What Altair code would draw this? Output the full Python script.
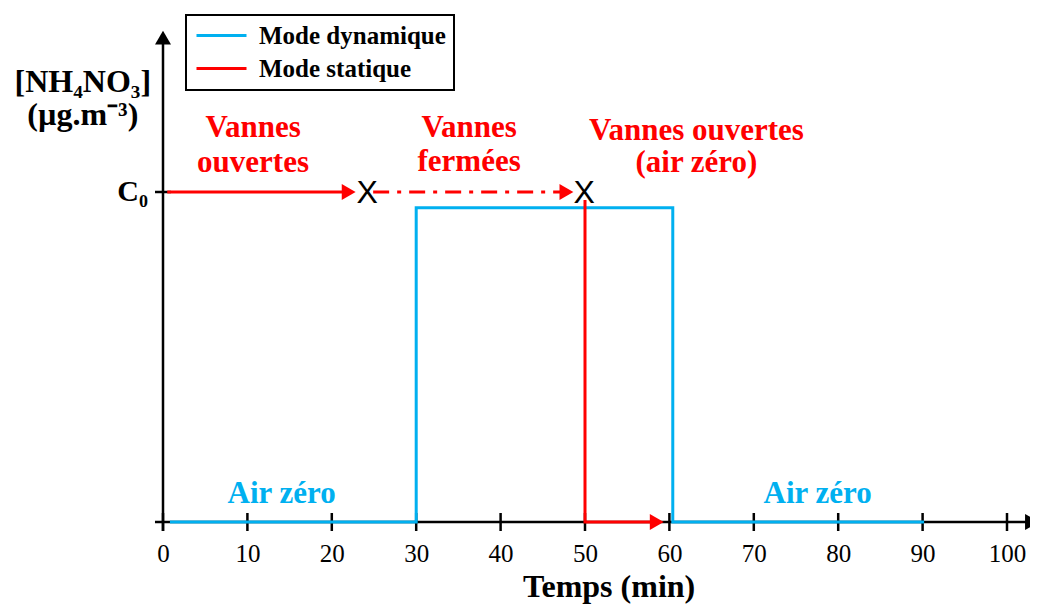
import altair as alt
import pandas as pd

BLUE = "#00B0F0"
RED = "#FF0000"
SERIF = "Liberation Serif"

# ---- data (x: minutes, y: concentration, C0 = 1) ----
C0 = 1.0

# Mode dynamique (blue step signal)
dyn_t = [1, 30, 30, 60.4, 60.4, 90]
dyn_c = [0, 0, 0.952, 0.952, 0, 0]

# Mode statique (red): solid pieces
stat_seg = ["a", "a", "b", "b", "b"]
stat_t = [0.5, 22.0, 50, 50, 58.5]
stat_c = [1.0, 1.0, 0.976, 0, 0]

# Mode statique: valves closed (dash-dot)
closed_t = [24.9, 47.8]
closed_c = [1.0, 1.0]

# arrow heads on the red path
head_t = [22.0, 47.8, 58.5]
head_c = [1.0, 1.0, 0.0]

# X markers
cross_t = [24.2, 49.9]
cross_c = [0.967, 0.967]

# axis ticks
tick_vals = list(range(0, 101, 10))

# red annotations
red_txt = ["Vannes", "ouvertes", "Vannes", "fermées", "Vannes ouvertes", "(air zéro)"]
red_t = [10.67, 10.67, 36.27, 36.27, 63.2, 63.2]
red_c = [1.1667, 1.0606, 1.1676, 1.0636, 1.159, 1.0606]

# blue annotations
blue_txt = ["Air zéro", "Air zéro"]
blue_t = [14.05, 77.57]
blue_c = [0.0576, 0.0576]

# axis labels
ylab_txt = ["[NH₄NO₃]", "(µg.m⁻³)"]
ylab_t = [-9.5, -9.5]
ylab_c = [1.303, 1.203]

c0_txt = ["C₀"]
c0_t = [-3.6]
c0_c = [0.9727]

xtitle_txt = ["Temps (min)"]
xtitle_t = [52.86]
xtitle_c = [-0.227]

modes = ["Mode dynamique", "Mode statique"]

W, H = 844, 495

xs = alt.Scale(domain=[0, 100], nice=False, zero=False)
ys = alt.Scale(domain=[0, 1.5], nice=False, zero=False)
xaxis = alt.Axis(values=tick_vals, domain=False, ticks=False, grid=False,
                 labelFont=SERIF, labelFontSize=25, labelColor="black",
                 labelPadding=19, title=None, labelFlush=False, labelOverlap=False)
X = alt.X("t:Q", scale=xs, axis=xaxis)
Y = alt.Y("c:Q", scale=ys, axis=None)

color = alt.Color("mode:N",
                  scale=alt.Scale(domain=modes, range=[BLUE, RED]),
                  legend=alt.Legend(title=None, orient="none", legendX=23, legendY=-12,
                                    symbolType="M-1,0H4", symbolSize=400,
                                    symbolStrokeWidth=3, labelFont=SERIF,
                                    labelFontSize=25, labelFontWeight="bold",
                                    labelColor="black", labelLimit=400,
                                    padding=8, rowPadding=7,
                                    labelOffset=40, fillColor="white",
                                    strokeColor="black"))

# axes drawn as rules
xaxis_df = pd.DataFrame({"t": [-0.95], "t2": [103.0], "c": [0.0]})
x_line = alt.Chart(xaxis_df).mark_rule(color="black", strokeWidth=2.5).encode(
    x=X, x2="t2:Q", y=Y)
yaxis_df = pd.DataFrame({"t": [0.0], "c": [-0.027], "c2": [1.468]})
y_line = alt.Chart(yaxis_df).mark_rule(color="black", strokeWidth=2.5).encode(
    x=X, y=Y, y2="c2:Q")
ticks_df = pd.DataFrame({"t": tick_vals})
x_ticks = alt.Chart(ticks_df).mark_rule(color="black", strokeWidth=2.5).encode(
    x=X, y=alt.value(H - 9), y2=alt.value(H + 9))
c0_df = pd.DataFrame({"c": [C0]})
c0_tick = alt.Chart(c0_df).mark_rule(color="black", strokeWidth=2.5).encode(
    y=Y, x=alt.value(-8), x2=alt.value(8))
yarrow_df = pd.DataFrame({"t": [0.0], "c": [1.468]})
y_arrow = alt.Chart(yarrow_df).mark_point(shape="triangle-up", filled=True, size=256,
                                          color="black", opacity=1).encode(x=X, y=Y)
xarrow_df = pd.DataFrame({"t": [102.96], "c": [0.0]})
x_arrow = alt.Chart(xarrow_df).mark_point(shape="triangle-right", filled=True, size=256,
                                          color="black", opacity=1).encode(x=X, y=Y)

dyn_df = pd.DataFrame({"t": dyn_t, "c": dyn_c, "mode": modes[0]})
dyn_df["i"] = range(len(dyn_df))
dyn = alt.Chart(dyn_df).mark_line(strokeWidth=3, strokeCap="square").encode(
    x=X, y=Y, color=color, order=alt.Order("i:Q"))

stat_df = pd.DataFrame({"t": stat_t, "c": stat_c, "seg": stat_seg, "mode": modes[1]})
stat_df["i"] = range(len(stat_df))
stat = alt.Chart(stat_df).mark_line(strokeWidth=3).encode(
    x=X, y=Y, color=color, detail="seg:N", order=alt.Order("i:Q"))

closed_df = pd.DataFrame({"t": closed_t, "c": closed_c})
closed = alt.Chart(closed_df).mark_line(strokeWidth=3, color=RED,
                                        strokeDash=[16, 8, 4, 8]).encode(x=X, y=Y)

head_df = pd.DataFrame({"t": head_t, "c": head_c})
heads = alt.Chart(head_df).mark_point(shape="triangle-right", filled=True, size=256,
                                      color=RED, opacity=1).encode(x=X, y=Y)

cross_df = pd.DataFrame({"t": cross_t, "c": cross_c, "label": ["X", "X"]})
crosses = alt.Chart(cross_df).mark_text(font="Liberation Sans", fontSize=32,
                                        baseline="alphabetic", color="black").encode(
    x=X, y=Y, text="label:N")


def text_layer(txt, t, c, size, color_, align="center"):
    df = pd.DataFrame({"t": t, "c": c, "label": txt})
    return alt.Chart(df).mark_text(font=SERIF, fontSize=size, fontWeight="bold",
                                   baseline="alphabetic", align=align,
                                   color=color_).encode(x=X, y=Y, text="label:N")


red_labels = text_layer(red_txt, red_t, red_c, 31, RED)
blue_labels = text_layer(blue_txt, blue_t, blue_c, 31, BLUE)
y_labels = text_layer(ylab_txt, ylab_t, ylab_c, 32, "black")
c0_label = text_layer(c0_txt, c0_t, c0_c, 30, "black")
x_title = text_layer(xtitle_txt, xtitle_t, xtitle_c, 32, "black")

chart = alt.layer(
    x_line, y_line, x_ticks, c0_tick, y_arrow, x_arrow,
    dyn, stat, closed, heads, crosses,
    red_labels, blue_labels, y_labels, c0_label, x_title,
).properties(
    width=W, height=H,
    autosize=alt.AutoSizeParams(type="none"),
    padding={"left": 155, "top": 19, "right": 23, "bottom": 84},
    background="white",
).configure_view(stroke=None).configure_legend(strokeWidth=2)

chart.save("out.html", embed_options={"renderer": "svg", "actions": False})
